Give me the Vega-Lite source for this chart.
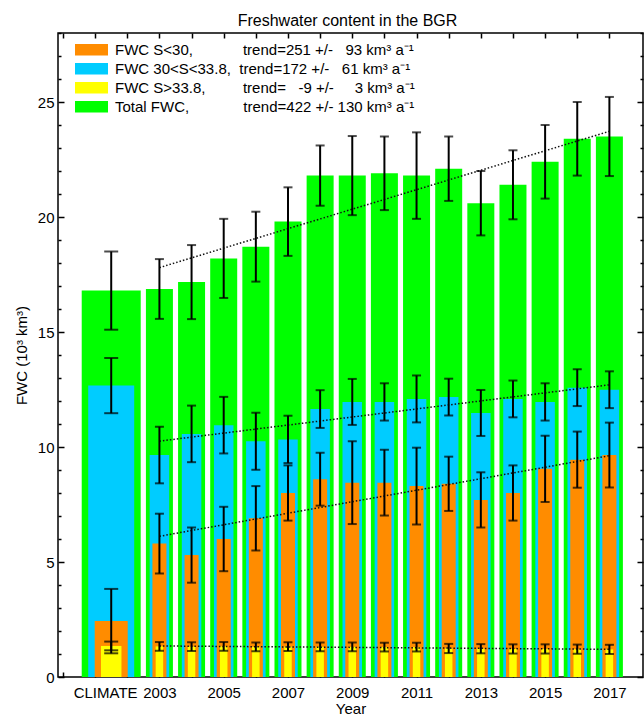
{
  "$schema": "https://vega.github.io/schema/vega-lite/v6.json",
  "width": 585,
  "height": 644,
  "autosize": {"type": "none"},
  "padding": {"left": 58, "top": 33, "right": 1, "bottom": 40},
  "background": "white",
  "title": {"text": "Freshwater content in the BGR", "fontSize": 16, "fontWeight": "normal", "color": "black", "offset": -3, "anchor": "middle", "frame": "group", "dx": -3, "font": "Liberation Sans"},
  "data": {"values": [
    {"cat": "CLIMATE", "year": 2001.5, "series": "Total FWC", "fwc": 16.8, "err": 1.7},
    {"cat": "2003", "year": 2003, "series": "Total FWC", "fwc": 16.87, "err": 1.3},
    {"cat": "2004", "year": 2004, "series": "Total FWC", "fwc": 17.17, "err": 1.61},
    {"cat": "2005", "year": 2005, "series": "Total FWC", "fwc": 18.2, "err": 1.72},
    {"cat": "2006", "year": 2006, "series": "Total FWC", "fwc": 18.71, "err": 1.52},
    {"cat": "2007", "year": 2007, "series": "Total FWC", "fwc": 19.8, "err": 1.49},
    {"cat": "2008", "year": 2008, "series": "Total FWC", "fwc": 21.8, "err": 1.31},
    {"cat": "2009", "year": 2009, "series": "Total FWC", "fwc": 21.8, "err": 1.72},
    {"cat": "2010", "year": 2010, "series": "Total FWC", "fwc": 21.9, "err": 1.6},
    {"cat": "2011", "year": 2011, "series": "Total FWC", "fwc": 21.8, "err": 1.88},
    {"cat": "2012", "year": 2012, "series": "Total FWC", "fwc": 22.1, "err": 1.4},
    {"cat": "2013", "year": 2013, "series": "Total FWC", "fwc": 20.6, "err": 1.4},
    {"cat": "2014", "year": 2014, "series": "Total FWC", "fwc": 21.4, "err": 1.5},
    {"cat": "2015", "year": 2015, "series": "Total FWC", "fwc": 22.4, "err": 1.6},
    {"cat": "2016", "year": 2016, "series": "Total FWC", "fwc": 23.4, "err": 1.6},
    {"cat": "2017", "year": 2017, "series": "Total FWC", "fwc": 23.5, "err": 1.72},
    {"cat": "CLIMATE", "year": 2001.5, "series": "FWC 30<S<33.8", "fwc": 12.67, "err": 1.2},
    {"cat": "2003", "year": 2003, "series": "FWC 30<S<33.8", "fwc": 9.65, "err": 1.23},
    {"cat": "2004", "year": 2004, "series": "FWC 30<S<33.8", "fwc": 10.57, "err": 1.23},
    {"cat": "2005", "year": 2005, "series": "FWC 30<S<33.8", "fwc": 10.95, "err": 1.23},
    {"cat": "2006", "year": 2006, "series": "FWC 30<S<33.8", "fwc": 10.25, "err": 1.24},
    {"cat": "2007", "year": 2007, "series": "FWC 30<S<33.8", "fwc": 10.33, "err": 1.03},
    {"cat": "2008", "year": 2008, "series": "FWC 30<S<33.8", "fwc": 11.65, "err": 0.82},
    {"cat": "2009", "year": 2009, "series": "FWC 30<S<33.8", "fwc": 11.96, "err": 1.0},
    {"cat": "2010", "year": 2010, "series": "FWC 30<S<33.8", "fwc": 11.96, "err": 0.81},
    {"cat": "2011", "year": 2011, "series": "FWC 30<S<33.8", "fwc": 12.09, "err": 1.02},
    {"cat": "2012", "year": 2012, "series": "FWC 30<S<33.8", "fwc": 12.17, "err": 0.8},
    {"cat": "2013", "year": 2013, "series": "FWC 30<S<33.8", "fwc": 11.48, "err": 1.0},
    {"cat": "2014", "year": 2014, "series": "FWC 30<S<33.8", "fwc": 12.09, "err": 0.8},
    {"cat": "2015", "year": 2015, "series": "FWC 30<S<33.8", "fwc": 11.96, "err": 0.81},
    {"cat": "2016", "year": 2016, "series": "FWC 30<S<33.8", "fwc": 12.58, "err": 0.8},
    {"cat": "2017", "year": 2017, "series": "FWC 30<S<33.8", "fwc": 12.49, "err": 0.8},
    {"cat": "CLIMATE", "year": 2001.5, "series": "FWC S<30", "fwc": 2.43, "err": 1.4},
    {"cat": "2003", "year": 2003, "series": "FWC S<30", "fwc": 5.8, "err": 1.3},
    {"cat": "2004", "year": 2004, "series": "FWC S<30", "fwc": 5.3, "err": 1.2},
    {"cat": "2005", "year": 2005, "series": "FWC S<30", "fwc": 6.0, "err": 1.4},
    {"cat": "2006", "year": 2006, "series": "FWC S<30", "fwc": 6.9, "err": 1.4},
    {"cat": "2007", "year": 2007, "series": "FWC S<30", "fwc": 8.0, "err": 1.2},
    {"cat": "2008", "year": 2008, "series": "FWC S<30", "fwc": 8.6, "err": 1.15},
    {"cat": "2009", "year": 2009, "series": "FWC S<30", "fwc": 8.45, "err": 1.8},
    {"cat": "2010", "year": 2010, "series": "FWC S<30", "fwc": 8.45, "err": 1.43},
    {"cat": "2011", "year": 2011, "series": "FWC S<30", "fwc": 8.3, "err": 1.67},
    {"cat": "2012", "year": 2012, "series": "FWC S<30", "fwc": 8.4, "err": 1.18},
    {"cat": "2013", "year": 2013, "series": "FWC S<30", "fwc": 7.7, "err": 1.2},
    {"cat": "2014", "year": 2014, "series": "FWC S<30", "fwc": 8.0, "err": 1.2},
    {"cat": "2015", "year": 2015, "series": "FWC S<30", "fwc": 9.05, "err": 1.44},
    {"cat": "2016", "year": 2016, "series": "FWC S<30", "fwc": 9.45, "err": 1.22},
    {"cat": "2017", "year": 2017, "series": "FWC S<30", "fwc": 9.65, "err": 1.41},
    {"cat": "CLIMATE", "year": 2001.5, "series": "FWC S>33.8", "fwc": 1.35, "err": 0.19},
    {"cat": "2003", "year": 2003, "series": "FWC S>33.8", "fwc": 1.33, "err": 0.19},
    {"cat": "2004", "year": 2004, "series": "FWC S>33.8", "fwc": 1.32, "err": 0.19},
    {"cat": "2005", "year": 2005, "series": "FWC S>33.8", "fwc": 1.33, "err": 0.19},
    {"cat": "2006", "year": 2006, "series": "FWC S>33.8", "fwc": 1.31, "err": 0.19},
    {"cat": "2007", "year": 2007, "series": "FWC S>33.8", "fwc": 1.32, "err": 0.19},
    {"cat": "2008", "year": 2008, "series": "FWC S>33.8", "fwc": 1.31, "err": 0.19},
    {"cat": "2009", "year": 2009, "series": "FWC S>33.8", "fwc": 1.31, "err": 0.19},
    {"cat": "2010", "year": 2010, "series": "FWC S>33.8", "fwc": 1.3, "err": 0.19},
    {"cat": "2011", "year": 2011, "series": "FWC S>33.8", "fwc": 1.3, "err": 0.19},
    {"cat": "2012", "year": 2012, "series": "FWC S>33.8", "fwc": 1.24, "err": 0.2},
    {"cat": "2013", "year": 2013, "series": "FWC S>33.8", "fwc": 1.23, "err": 0.2},
    {"cat": "2014", "year": 2014, "series": "FWC S>33.8", "fwc": 1.22, "err": 0.2},
    {"cat": "2015", "year": 2015, "series": "FWC S>33.8", "fwc": 1.22, "err": 0.2},
    {"cat": "2016", "year": 2016, "series": "FWC S>33.8", "fwc": 1.21, "err": 0.2},
    {"cat": "2017", "year": 2017, "series": "FWC S>33.8", "fwc": 1.2, "err": 0.2}
  ]},
  "layer": [
    {
      "encoding": {
        "x": {"field": "year", "type": "quantitative", "scale": {"domain": [2000, 2017.89], "nice": false, "zero": false},
          "axis": {"orient": "bottom", "title": "Year", "values": [2000, 2001, 2002, 2003, 2004, 2005, 2006, 2007, 2008, 2009, 2010, 2011, 2012, 2013, 2014, 2015, 2016, 2017],
            "format": "d", "labelExpr": "datum.value === 2001 ? 'CLIMATE' : ((datum.value >= 2003 && datum.value % 2 === 1) ? datum.label : '')",
            "labelOffset": {"condition": {"test": "datum.value === 2001", "value": 10}, "value": 0},
            "tickSize": -5, "labelPadding": 13, "labelOverlap": false, "labelFlush": false, "labelBound": false, "titlePadding": 1}},
        "y": {"field": "fwc", "type": "quantitative", "stack": null, "scale": {"domain": [0, 28], "nice": false, "zero": true},
          "axis": {"orient": "left", "title": "FWC (10³ km³)", "values": [0,1,2,3,4,5,6,7,8,9,10,11,12,13,14,15,16,17,18,19,20,21,22,23,24,25,26,27,28],
            "labelExpr": "datum.value % 5 === 0 ? datum.label : ''",
            "tickSize": {"condition": {"test": "datum.value % 5 === 0", "value": -6}, "value": -3},
            "labelPadding": 10, "labelOverlap": false, "labelFlush": false, "titlePadding": 8}},
        "fill": {"field": "series", "type": "nominal",
          "scale": {"domain": ["FWC S<30", "FWC 30<S<33.8", "FWC S>33.8", "Total FWC"], "range": ["#ff8c00", "#00ccff", "#ffff00", "#00ff00"]},
          "legend": {"title": null, "orient": "none", "legendX": 17, "legendY": 7.5, "direction": "vertical", "padding": 0,
            "symbolType": "M-1,-0.348H1V0.348H-1Z", "symbolSize": 1089, "symbolStrokeWidth": 0, "symbolOpacity": 1,
            "clipHeight": 18.4, "rowPadding": 0, "labelOffset": 7, "labelFontSize": 15, "labelFont": "Liberation Sans", "labelColor": "black", "labelLimit": 0,
            "labelExpr": "datum.label === 'FWC S<30' ? 'FWC S<30,\u00a0\u00a0\u00a0\u00a0\u00a0\u00a0\u00a0\u00a0\u00a0\u00a0\u00a0\u00a0trend=251 +/-\u00a0\u00a0\u00a093 km³ a⁻¹' : datum.label === 'FWC 30<S<33.8' ? 'FWC 30<S<33.8,\u00a0\u00a0trend=172 +/-\u00a0\u00a0\u00a061 km³ a⁻¹' : datum.label === 'FWC S>33.8' ? 'FWC S>33.8,\u00a0\u00a0\u00a0\u00a0\u00a0\u00a0\u00a0\u00a0\u00a0trend=\u00a0\u00a0\u00a0-9 +/-\u00a0\u00a0\u00a0\u00a0\u00a03 km³ a⁻¹' : 'Total FWC,\u00a0\u00a0\u00a0\u00a0\u00a0\u00a0\u00a0\u00a0\u00a0\u00a0\u00a0\u00a0\u00a0trend=422 +/- 130 km³ a⁻¹'"}}
      },
      "layer": [
        {"transform": [{"filter": "datum.cat !== 'CLIMATE' && datum.series === 'Total FWC'"}], "mark": {"type": "bar", "width": 27}},
        {"transform": [{"filter": "datum.cat !== 'CLIMATE' && datum.series === 'FWC 30<S<33.8'"}], "mark": {"type": "bar", "width": 19.5}},
        {"transform": [{"filter": "datum.cat !== 'CLIMATE' && datum.series === 'FWC S<30'"}], "mark": {"type": "bar", "width": 14}},
        {"transform": [{"filter": "datum.cat !== 'CLIMATE' && datum.series === 'FWC S>33.8'"}], "mark": {"type": "bar", "width": 7.5}},
        {"transform": [{"filter": "datum.cat === 'CLIMATE' && datum.series === 'Total FWC'"}], "mark": {"type": "bar", "width": 59}},
        {"transform": [{"filter": "datum.cat === 'CLIMATE' && datum.series === 'FWC 30<S<33.8'"}], "mark": {"type": "bar", "width": 46}},
        {"transform": [{"filter": "datum.cat === 'CLIMATE' && datum.series === 'FWC S<30'"}], "mark": {"type": "bar", "width": 33}},
        {"transform": [{"filter": "datum.cat === 'CLIMATE' && datum.series === 'FWC S>33.8'"}], "mark": {"type": "bar", "width": 20.5}}
      ]
    },
    {
      "transform": [
        {"filter": "datum.cat !== 'CLIMATE'"},
        {"regression": "fwc", "on": "year", "groupby": ["series"], "extent": [2003, 2017]}
      ],
      "mark": {"type": "line", "color": "#111111", "strokeWidth": 1.5, "strokeDash": [1.5, 2]},
      "encoding": {
        "x": {"field": "year", "type": "quantitative", "scale": {"domain": [2000, 2017.89], "nice": false, "zero": false},
          "axis": {"orient": "top", "title": null, "labels": false, "values": [2000, 2001, 2002, 2003, 2004, 2005, 2006, 2007, 2008, 2009, 2010, 2011, 2012, 2013, 2014, 2015, 2016, 2017], "tickSize": -5}},
        "y": {"field": "fwc", "type": "quantitative", "scale": {"domain": [0, 28], "nice": false, "zero": true},
          "axis": {"orient": "right", "title": null, "labels": false, "values": [0,1,2,3,4,5,6,7,8,9,10,11,12,13,14,15,16,17,18,19,20,21,22,23,24,25,26,27,28],
            "tickSize": {"condition": {"test": "datum.value % 5 === 0", "value": -6}, "value": -3}}},
        "detail": {"field": "series", "type": "nominal"}
      }
    },
    {
      "transform": [{"filter": "datum.cat !== 'CLIMATE'"}],
      "mark": {"type": "errorbar", "color": "black", "rule": {"strokeWidth": 2}, "ticks": {"size": 9, "thickness": 2}},
      "encoding": {
        "x": {"field": "year", "type": "quantitative", "scale": {"domain": [2000, 2017.89], "nice": false, "zero": false}, "axis": null},
        "y": {"field": "fwc", "type": "quantitative", "scale": {"domain": [0, 28], "nice": false, "zero": true}, "axis": null},
        "yError": {"field": "err"}
      }
    },
    {
      "transform": [{"filter": "datum.cat === 'CLIMATE'"}],
      "mark": {"type": "errorbar", "color": "black", "rule": {"strokeWidth": 2}, "ticks": {"size": 14, "thickness": 2}},
      "encoding": {
        "x": {"field": "year", "type": "quantitative", "scale": {"domain": [2000, 2017.89], "nice": false, "zero": false}, "axis": null},
        "y": {"field": "fwc", "type": "quantitative", "scale": {"domain": [0, 28], "nice": false, "zero": true}, "axis": null},
        "yError": {"field": "err"}
      }
    }
  ],
  "resolve": {"axis": {"x": "independent", "y": "independent"}},
  "config": {
    "font": "Liberation Sans",
    "view": {"stroke": "black", "strokeWidth": 1.5},
    "axis": {"domain": false, "grid": false, "labelFontSize": 15, "labelColor": "black", "tickColor": "black", "tickWidth": 1.5,
      "titleFontSize": 15, "titleFontWeight": "normal", "titleColor": "black", "labelFont": "Liberation Sans", "titleFont": "Liberation Sans"}
  }
}
